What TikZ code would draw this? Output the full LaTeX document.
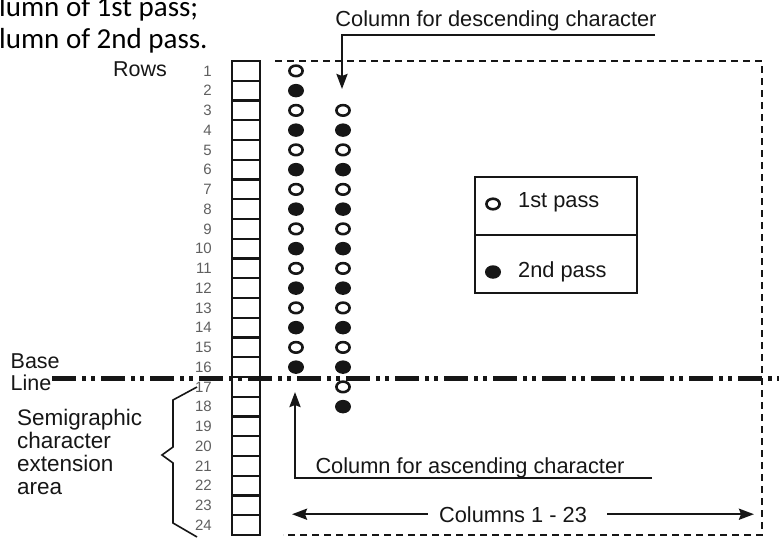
\documentclass[tikz,border=0pt]{standalone}
\usepackage{fontspec}
\setmainfont{Liberation Sans}
\newfontfamily\calibri{Carlito}
\usepackage{tikz}
\usetikzlibrary{shapes,arrows,arrows.meta,backgrounds,%
positioning,fit,calc,shapes.geometric%
}

\definecolor{ink}{RGB}{22,22,22}
\definecolor{numgray}{RGB}{95,95,95}

\tikzset{
  rowbox/.style={draw=ink,line width=2.4pt,minimum width=28pt,minimum height=19.75pt,inner sep=0pt},
  rownum/.style={anchor=base east,inner sep=0pt,text=numgray,font=\fontsize{15}{15}\selectfont},
  opendot/.style={ellipse,draw=ink,fill=white,line width=2.6pt,minimum width=13.2pt,minimum height=10.6pt,inner sep=0pt},
  fulldot/.style={ellipse,fill=ink,minimum width=16pt,minimum height=13.5pt,inner sep=0pt},
  lbl/.style={inner sep=0pt,text=ink,font=\fontsize{21.8}{22}\selectfont},
  frame/.style={ink,line width=2.3pt,dash pattern=on 7pt off 5pt},
  bline/.style={ink,line width=5pt,dash pattern=on 24pt off 6pt on 4pt off 5pt on 4pt off 6pt},
  pointer/.style={->,ink,line width=2.4pt},
  >={Stealth[length=15pt,width=11pt,inset=2pt]}
}

\begin{document}
\begin{tikzpicture}[x=1pt,y=-1pt]
      \useasboundingbox (0,0) rectangle (779,538);

      \coordinate (ftl) at (275,61);
      \coordinate (ftr) at (762,61);
      \coordinate (fbr) at (762,535);
      \coordinate (fbl) at (283,535);
      \coordinate (bl) at (52,378);
      \coordinate (br) at (779,378);
      \coordinate (dsc) at (655,35);
      \coordinate (dsk) at (342,35);
      \coordinate (dst) at (342,89);
      \coordinate (asc) at (652,478);
      \coordinate (ask) at (295,478);
      \coordinate (ast) at (295,392);
      \coordinate (cleft) at (292,515);
      \coordinate (cright) at (754,515);

      \node[anchor=west,align=left,inner sep=0pt,font=\calibri\fontsize{29}{32}\selectfont] (note) at (-1,25) {lumn of 1st pass;\\lumn of 2nd pass.};

      \draw[frame] (ftl) -- (ftr) -- (fbr) -- (fbl);

      % rows of the character cell
      \foreach \i in {1,...,24} {
        \node[rowbox] (r\i) at (246,{61+(\i-0.5)*19.75}) {};
        \node[rownum] (n\i) at (212,{61+(\i-0.5)*19.75+5.3}) {\i};
      }

      \draw[bline] (bl) -- (br);

      % dots: 1st pass open, 2nd pass filled
      \foreach \i in {1,3,...,15} \node[opendot] (a\i) at (296,{61+(\i-0.5)*19.75}) {};
      \foreach \i in {2,4,...,16} \node[fulldot] (a\i) at (296,{61+(\i-0.5)*19.75}) {};
      \foreach \i in {3,5,...,17} \node[opendot] (b\i) at (343,{61+(\i-0.5)*19.75}) {};
      \foreach \i in {4,6,...,18} \node[fulldot] (b\i) at (343,{61+(\i-0.5)*19.75}) {};

      \node[lbl,anchor=base,font=\fontsize{21.5}{22}\selectfont] (rows) at (140,76) {Rows};
      \node[lbl,anchor=west,align=left,font=\fontsize{21.5}{22}\selectfont] (base) at (10.5,372.5) {Base\\Line};
      \node[lbl,anchor=west,align=left,font=\fontsize{22.5}{23.2}\selectfont] (semi) at (17,452) {Semigraphic\\character\\extension\\area};
      \draw[ink,line width=1.6pt] (197,387) -- (173,400) -- (173,447) -- (162,455) -- (173,463) -- (173,523) -- (197,537);

      \node[lbl,anchor=base] (dtext) at (496,27) {Column for descending character};
      \draw[pointer] (dsc) -- (dsk) -- (dst);
      \node[lbl,anchor=base] (atext) at (470,473) {Column for ascending character};
      \draw[pointer] (asc) -- (ask) -- (ast);

      \node[lbl,anchor=base,inner xsep=11pt] (cols) at (513,522) {Columns 1 - 23};
      \draw[pointer] (cols.west) -- (cols.west -| cleft);
      \draw[pointer] ([xshift=9pt]cols.east) -- (cols.east -| cright);

      % legend
      \node[draw=ink,line width=2pt,minimum width=162pt,minimum height=116pt,inner sep=0pt] (key) at (556,235) {};
      \draw[ink,line width=2pt] (key.west) -- (key.east);
      \node[opendot] (k1) at (493,204) {};
      \node[lbl,anchor=base west] (k1t) at (518,207) {1st pass};
      \node[fulldot] (k2) at (493,272) {};
      \node[lbl,anchor=base west] (k2t) at (518,277) {2nd pass};

    \end{tikzpicture}
\end{document}
